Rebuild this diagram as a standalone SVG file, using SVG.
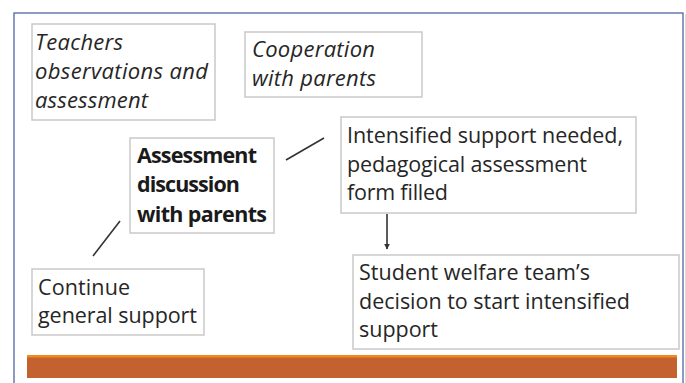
<svg xmlns="http://www.w3.org/2000/svg" width="686" height="383" viewBox="0 0 686 383">
  <defs>
    <style>
      .box { fill: #ffffff; stroke: #c9c9c9; stroke-width: 1.5; }
      .t { font-family: "Open Sans", "Liberation Sans", sans-serif; font-size: 21.5px; fill: #262626; }
      .it { font-style: italic; font-size: 22px; }
      .b { font-weight: bold; fill: #1a1a1a; }
      .conn { stroke: #333333; stroke-width: 1.6; fill: none; }
    </style>
    <marker id="arrow" viewBox="0 0 10 10" refX="9" refY="5" markerWidth="6" markerHeight="6" orient="auto" markerUnits="userSpaceOnUse">
      <path d="M0,0 L10,5 L0,10 z" fill="#333333"/>
    </marker>
  </defs>
  <rect x="0" y="0" width="686" height="383" fill="#ffffff"/>
  <rect x="685" y="14" width="1" height="369" fill="#dddddd"/>
  <rect id="frame" x="14" y="13" width="669" height="380" fill="#ffffff" stroke="#41579a" stroke-width="1.2"/>

  <g id="bar">
    <rect x="27" y="355" width="650" height="23" fill="#c3622f"/>
    <rect x="27" y="355" width="650" height="2.5" fill="#ee8a1f"/>
  </g>

  <g id="connectors">
    <line class="conn" x1="286" y1="160" x2="324" y2="138"/>
    <line class="conn" x1="120" y1="221" x2="93" y2="256"/>
    <line class="conn" x1="387" y1="214" x2="387" y2="249" marker-end="url(#arrow)"/>
  </g>

  <g id="teachers">
    <rect class="box" x="32" y="24" width="183" height="96"/>
    <text class="t it" x="35" y="50" textLength="88">Teachers</text>
    <text class="t it" x="35" y="79" textLength="173">observations and</text>
    <text class="t it" x="35" y="108" textLength="113">assessment</text>
  </g>

  <g id="cooperation">
    <rect class="box" x="245" y="32" width="177" height="65"/>
    <text class="t it" x="252" y="57" textLength="123">Cooperation</text>
    <text class="t it" x="252" y="86" textLength="124">with parents</text>
  </g>

  <g id="discussion">
    <rect class="box" x="130" y="138" width="144" height="95"/>
    <text class="t b" x="137" y="163" textLength="120">Assessment</text>
    <text class="t b" x="137" y="192" textLength="103">discussion</text>
    <text class="t b" x="137" y="222" textLength="130">with parents</text>
  </g>

  <g id="intensified">
    <rect class="box" x="341" y="117" width="295" height="96"/>
    <text class="t" x="347" y="143" textLength="276">Intensified support needed,</text>
    <text class="t" x="347" y="172" textLength="240">pedagogical assessment</text>
    <text class="t" x="347" y="200" textLength="101">form filled</text>
  </g>

  <g id="welfare">
    <rect class="box" x="353" y="255" width="326" height="94"/>
    <text class="t" x="359" y="280" textLength="231">Student welfare team’s</text>
    <text class="t" x="359" y="309" textLength="271">decision to start intensified</text>
    <text class="t" x="359" y="337" textLength="79">support</text>
  </g>

  <g id="continue">
    <rect class="box" x="32" y="269" width="172" height="66"/>
    <text class="t" x="38" y="295" textLength="92">Continue</text>
    <text class="t" x="38" y="323" textLength="159">general support</text>
  </g>
</svg>
